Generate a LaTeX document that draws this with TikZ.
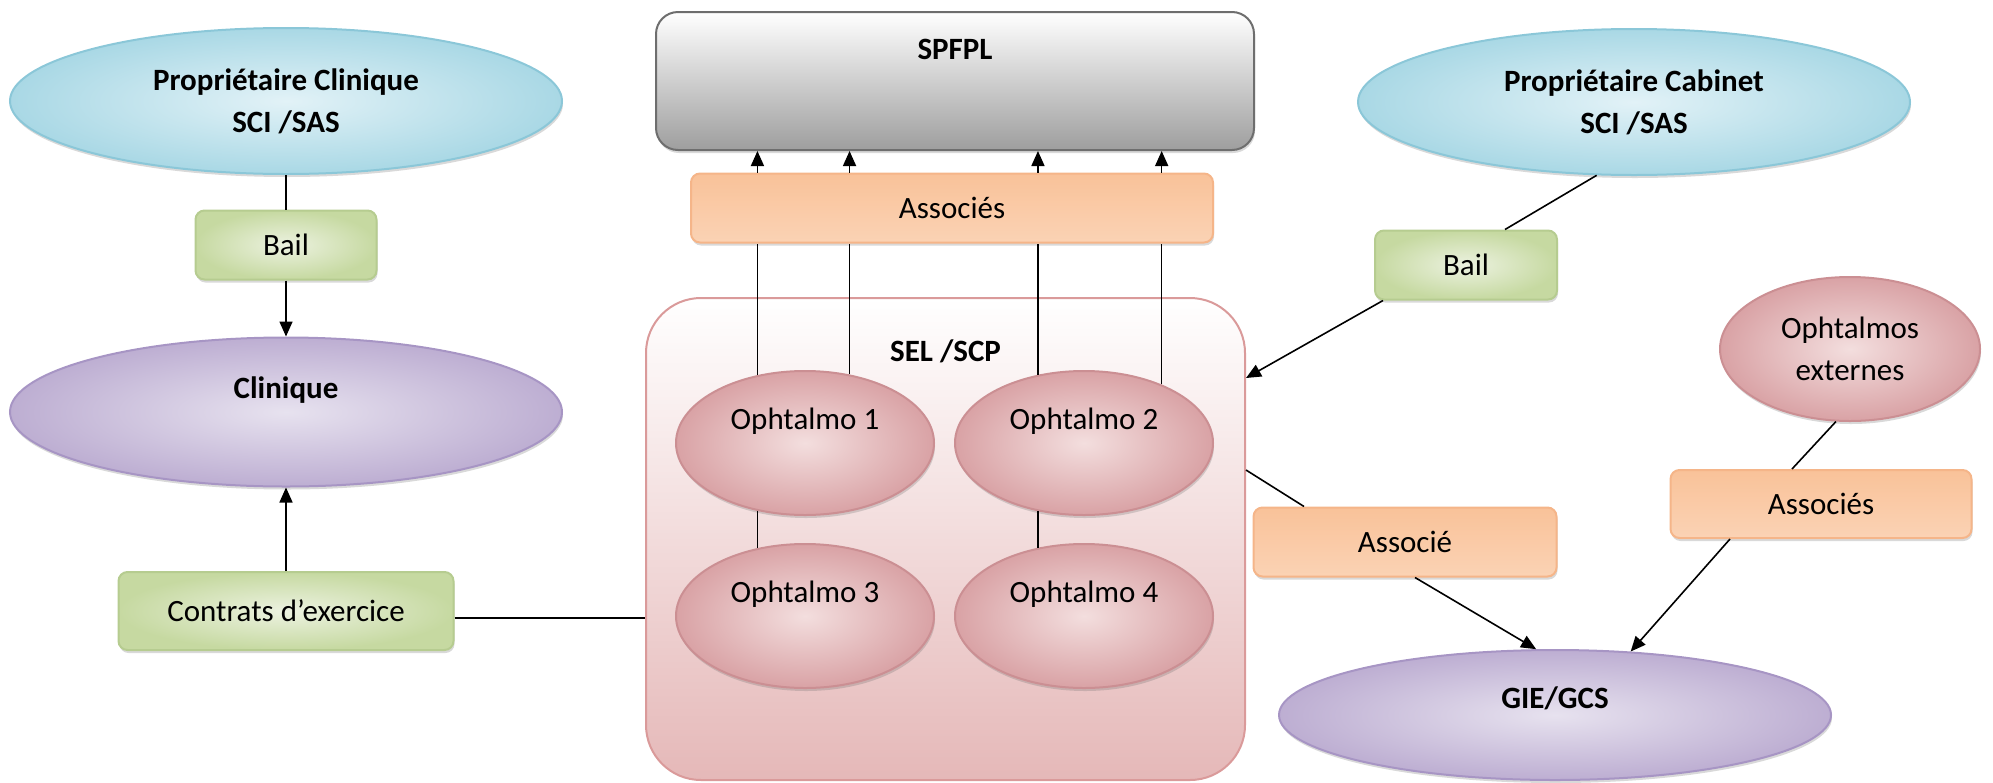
\documentclass[tikz,border=0pt]{standalone}
\usepackage{fontspec}
\setmainfont{Carlito}
\usetikzlibrary{shapes.geometric,arrows.meta,shadows,positioning}

\definecolor{blueIn}{HTML}{E2F2F7}
\definecolor{blueOut}{HTML}{A9D8E5}
\definecolor{blueLine}{HTML}{8BC7D8}
\definecolor{lilacIn}{HTML}{E7E2EF}
\definecolor{lilacOut}{HTML}{BDAED2}
\definecolor{lilacLine}{HTML}{A795C4}
\definecolor{greenIn}{HTML}{ECF2E0}
\definecolor{greenOut}{HTML}{C6D9A1}
\definecolor{greenLine}{HTML}{B6CC90}
\definecolor{peachIn}{HTML}{FDEBDD}
\definecolor{peachOut}{HTML}{F9C299}
\definecolor{peachLine}{HTML}{F5B589}
\definecolor{roseIn}{HTML}{F3DEDE}
\definecolor{roseOut}{HTML}{D9A2A5}
\definecolor{roseLine}{HTML}{CB8F93}
\definecolor{selLow}{HTML}{E5B8B8}
\definecolor{selLine}{HTML}{DA9A9A}
\definecolor{greyLine}{HTML}{6E6E6E}

\newcommand{\diagfont}{\fontsize{31}{42}\selectfont}

\begin{document}
\begin{tikzpicture}[x=1pt,y=-1pt,
  every node/.style={font=\diagfont,align=center},
  boldlbl/.style={font=\diagfont\bfseries},
  softshadow/.style={drop shadow={fill=black!60,opacity=0.25,shadow xshift=1pt,shadow yshift=-3pt}},
  conn/.style={line width=1.6pt},
  arr/.style={conn,-{Triangle[length=15pt,width=13pt]}},
  ell/.style={ellipse,line width=2pt,inner sep=0pt,softshadow},
  blueell/.style={ell,draw=blueLine,inner color=blueIn,outer color=blueOut,minimum width=552pt,minimum height=146pt,font=\diagfont\bfseries},
  lilacell/.style={ell,draw=lilacLine,inner color=lilacIn,outer color=lilacOut,minimum width=552pt},
  roseell/.style={ell,draw=roseLine,inner color=roseIn,outer color=roseOut,minimum width=258pt,minimum height=144pt},
  box/.style={rectangle,rounded corners=9pt,line width=2pt,minimum height=69pt,softshadow},
  greenbox/.style={box,draw=greenLine,inner color=greenIn,outer color=greenOut},
  peachbox/.style={box,draw=peachLine,top color=peachOut,middle color=peachIn,bottom color=peachOut!60!peachIn},
  selbox/.style={rectangle,rounded corners=55pt,line width=2pt,draw=selLine,top color=white,bottom color=selLow,minimum width=599pt,minimum height=482pt},
  spfplbox/.style={rectangle,rounded corners=22pt,line width=2pt,draw=greyLine,top color=white,middle color=black!25,bottom color=black!38,minimum width=598pt,minimum height=138pt,softshadow}]

\useasboundingbox (0,0) rectangle (1993,782);

% holding
\node[spfplbox] (spfpl) at (955,81) {};
\node[boldlbl] (spfplLbl) at ([yshift=-38pt]spfpl.north) {SPFPL};
\node[peachbox,minimum width=522pt] (assocTop) at (952,208) {Associés};

% societe d'exercice
\node[selbox] (sel) at (945.5,539) {};
\node[boldlbl] (selLbl) at ([yshift=-54pt]sel.north) {SEL /SCP};
\node[roseell] (oph1) at (805,443) {};
\node[roseell] (oph2) at (1084,443) {};
\node[roseell] (oph3) at (805,616) {};
\node[roseell] (oph4) at (1084,616) {};
\node (oph1Lbl) at ([yshift=22pt]oph1.center) {Ophtalmo 1};
\node (oph2Lbl) at ([yshift=22pt]oph2.center) {Ophtalmo 2};
\node (oph3Lbl) at ([yshift=22pt]oph3.center) {Ophtalmo 3};
\node (oph4Lbl) at ([yshift=22pt]oph4.center) {Ophtalmo 4};

% clinique
\node[blueell] (propClin) at (286,101) {Propriétaire Clinique\\SCI /SAS};
\node[greenbox,minimum width=181pt] (bailClin) at (286,245) {Bail};
\node[lilacell,minimum height=149pt] (clinique) at (286,412) {};
\node[boldlbl] (cliniqueLbl) at ([yshift=22pt]clinique.center) {Clinique};
\node[greenbox,minimum width=335pt,minimum height=78pt] (contrats) at (286,611) {Contrats d’exercice};

% cabinet
\node[blueell] (propCab) at (1634,102) {Propriétaire Cabinet\\SCI /SAS};
\node[greenbox,minimum width=182pt] (bailCab) at (1466,265) {Bail};
\node[roseell,minimum width=260pt] (ophExt) at (1850,349) {Ophtalmos\\externes};
\node[peachbox,minimum width=301pt,minimum height=68pt] (assocExt) at (1821,504) {Associés};
\node[peachbox,minimum width=303pt] (associe) at (1405,542) {Associé};
\node[lilacell,minimum height=130pt] (gie) at (1555,715) {};
\node[boldlbl] (gieLbl) at ([yshift=17pt]gie.center) {GIE/GCS};

% liens clinique
\draw[conn] (propClin.south) -- (bailClin.north);
\draw[arr] (bailClin.south) -- (clinique.north);
\draw[arr] (contrats.north) -- (clinique.south);
\draw[conn] ([yshift=-7pt]contrats.east) -- ([yshift=-7pt]contrats.east -| sel.west);

% associes vers SPFPL
\draw[conn] (oph1.125) -- (oph1.125 |- assocTop.south);
\draw[conn] (oph1.57) -- (oph1.57 |- assocTop.south);
\draw[conn] (oph2.124) -- (oph2.124 |- assocTop.south);
\draw[conn] (oph2.37) -- (oph2.37 |- assocTop.south);
\draw[arr] (oph1.125 |- assocTop.north) -- (oph1.125 |- spfpl.south);
\draw[arr] (oph1.57 |- assocTop.north) -- (oph1.57 |- spfpl.south);
\draw[arr] (oph2.124 |- assocTop.north) -- (oph2.124 |- spfpl.south);
\draw[arr] (oph2.37 |- assocTop.north) -- (oph2.37 |- spfpl.south);
\draw[conn] (oph1.235) -- (oph3.125);
\draw[conn] (oph2.236) -- (oph4.124);

% liens cabinet
\draw[conn] (propCab.243) -- ([xshift=39pt]bailCab.north);
\draw[arr] ([xshift=9pt]bailCab.south west) -- ([yshift=161pt]sel.east);
\draw[conn] ([yshift=69pt]sel.east) -- ([xshift=-101pt]associe.north);
\draw[arr] ([xshift=10pt]associe.south) -- (gie.106);
\draw[conn] (ophExt.259) -- ([xshift=-29pt]assocExt.north);
\draw[arr] ([xshift=-91pt]assocExt.south) -- (gie.40);

\end{tikzpicture}
\end{document}
